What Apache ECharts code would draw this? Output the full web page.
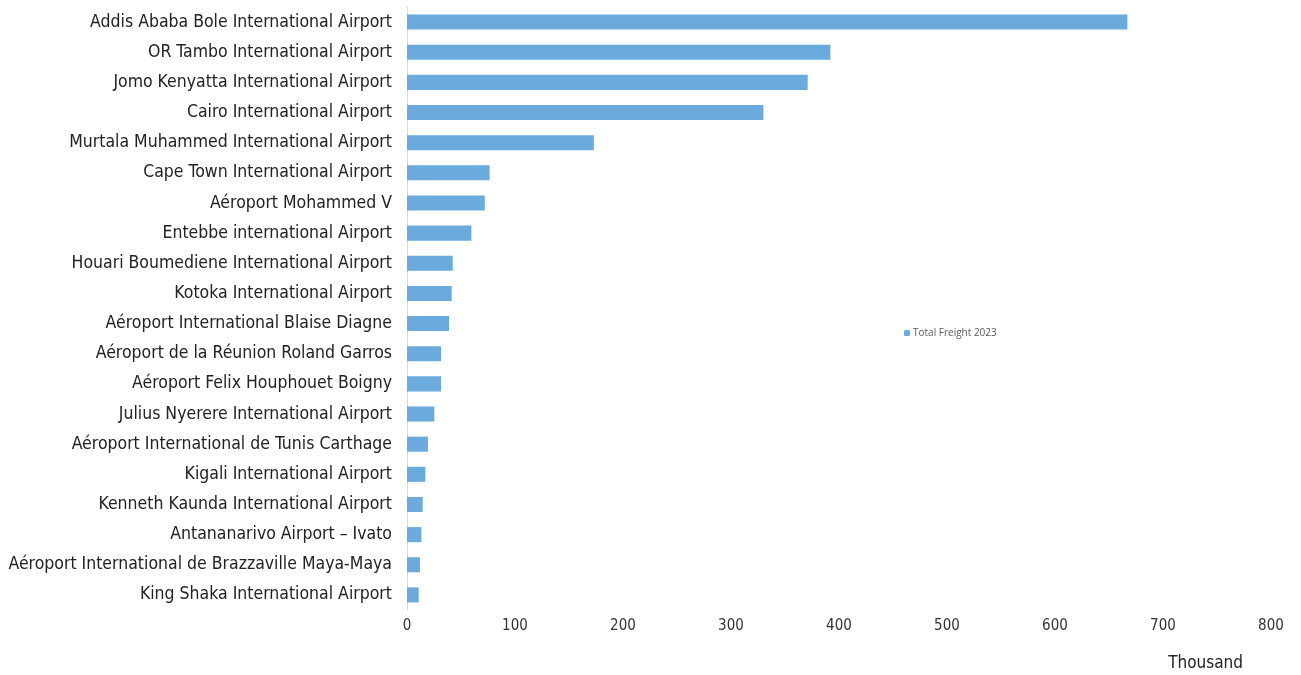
<!DOCTYPE html>
<html><head><meta charset="utf-8">
<script src="https://cdn.jsdelivr.net/npm/echarts@6/dist/echarts.min.js"></script>
<style>html,body{margin:0;padding:0;background:#fff}#c{width:1301px;height:675px}</style>
</head><body><div id="c"></div>
<script>
const airports = [
  "Addis Ababa Bole International Airport",
  "OR Tambo International Airport",
  "Jomo Kenyatta International Airport",
  "Cairo International Airport",
  "Murtala Muhammed International Airport",
  "Cape Town International Airport",
  "Aéroport Mohammed V",
  "Entebbe international Airport",
  "Houari Boumediene International Airport",
  "Kotoka International Airport",
  "Aéroport International Blaise Diagne",
  "Aéroport de la Réunion Roland Garros",
  "Aéroport Felix Houphouet Boigny",
  "Julius Nyerere International Airport",
  "Aéroport International de Tunis Carthage",
  "Kigali International Airport",
  "Kenneth Kaunda International Airport",
  "Antananarivo Airport – Ivato",
  "Aéroport International de Brazzaville Maya-Maya",
  "King Shaka International Airport"
];
const freight2023 = [667, 392, 371, 330, 173, 76.5, 72, 59.6, 42.3, 41.4, 38.9, 31.5, 31.5, 25.3, 19.4, 17, 14.5, 13.3, 12, 10.8];
const seriesName = "Total Freight 2023";
const unitLabel = "Thousand";

const chart = echarts.init(document.getElementById('c'), null, {renderer: 'canvas'});
const font = "'DejaVu Sans Condensed', 'Liberation Sans Narrow', sans-serif";
chart.setOption({
  animation: false,
  grid: {left: 407, right: 30, top: 7, bottom: 65, containLabel: false},
  legend: {
    data: [seriesName], left: 899, top: 323, itemWidth: 6, itemHeight: 6, itemGap: 2,
    textStyle: {fontSize: 10, color: '#595959', fontFamily: "'Open Sans', sans-serif", padding: [0,0,0,-2]}
  },
  xAxis: {
    type: 'value', min: 0, max: 800, interval: 100,
    axisLine: {show: false}, axisTick: {show: false}, splitLine: {show: false},
    axisLabel: {fontSize: 15, color: '#333', fontFamily: font, margin: 9}
  },
  yAxis: {
    type: 'category', data: airports, inverse: true,
    axisLine: {show: true, lineStyle: {color: '#d9d9d9', width: 1}},
    axisTick: {show: false},
    axisLabel: {fontSize: 17.5, color: '#222', fontFamily: font, margin: 15}
  },
  series: [{
    name: seriesName, type: 'bar', data: freight2023, barWidth: '50%',
    itemStyle: {color: '#6aaadc'}
  }],
  graphic: [{
    type: 'text', right: 58, top: 655,
    style: {text: unitLabel, fontSize: 17, fill: '#222', fontFamily: font}
  }]
});
</script></body></html>
